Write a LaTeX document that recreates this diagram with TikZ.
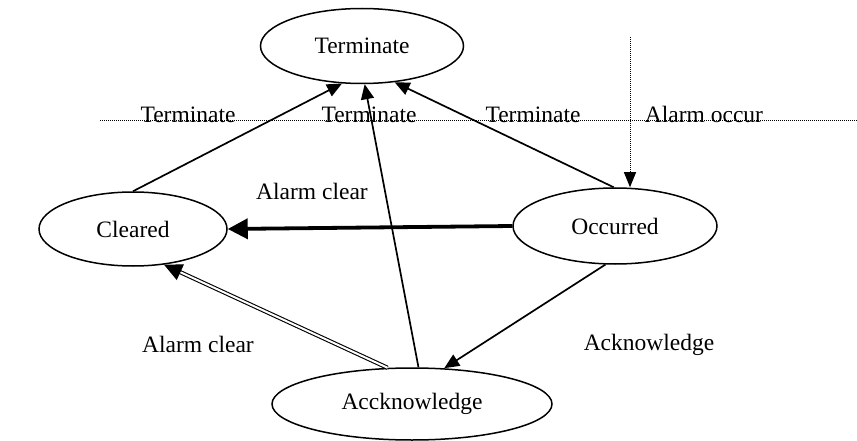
\documentclass[tikz,border=0pt]{standalone}
\usepackage{fontspec}
\setmainfont{Liberation Serif}
\usetikzlibrary{shapes.geometric,arrows.meta,calc}
\begin{document}
\begin{tikzpicture}[x=1pt,y=-1pt,
  state/.style={ellipse,draw,line width=1.5pt,fill=white,inner sep=0pt,font=\fontsize{23.5}{28}\selectfont},
  lbl/.style={font=\fontsize{23.5}{28}\selectfont,inner sep=0pt,anchor=base},
  conn/.style={line width=1.7pt,-{Triangle[length=15pt,width=13pt]}},
  thickconn/.style={line width=3.8pt,-{Triangle[length=20pt,width=20pt]}},
  dblline/.style={line width=1.1pt,double=white,double distance=2pt},
  tiponly/.style={line width=1pt,-{Triangle[length=18pt,width=17pt]}},
  dots/.style={line width=1pt,dash pattern=on 1pt off 1pt}]
\useasboundingbox (0,0) rectangle (857,441);
\node[state,minimum width=203pt,minimum height=75pt] (term) at (362,46) {Terminate};
\node[state,minimum width=188pt,minimum height=74pt] (clr) at (133,229) {Cleared};
\node[state,minimum width=204pt,minimum height=76pt] (occ) at (615,226) {Occurred};
\node[state,minimum width=280pt,minimum height=72pt] (ack) at (412,404) {Accknowledge};
% dotted lines
\coordinate (hl) at (100,121);
\coordinate (hr) at (857,121);
\draw[dots] (hl) -- (hr);
\coordinate (vt) at (630,37);
\draw[dots,-{Triangle[length=15pt,width=12pt]}] (vt) -- (vt |- occ.north);
% labels
\node[lbl] (t1) at (188,123) {Terminate};
\node[lbl] (t2) at (369,123) {Terminate};
\node[lbl] (t3) at (533,123) {Terminate};
\node[lbl] (ao) at (704,123) {Alarm occur};
\node[lbl] (ac1) at (312,200) {Alarm clear};
\node[lbl] (ac2) at (198,352) {Alarm clear};
\node[lbl] (ak) at (649,350) {Acknowledge};
% connectors
\draw[conn] (clr.90) -- (term.242);
\draw[conn] (ack.80) -- (term.274);
\draw[conn] (occ.92) -- (term.312);
\draw[thickconn] (occ.180) -- (clr.0);
\coordinate (dblend) at ($(clr.311)!16pt!(ack.124)$);
\draw[dblline] (ack.124) -- (dblend);
\draw[tiponly] (dblend) -- (clr.311);
\draw[conn] (occ.256) -- (ack.48);
\end{tikzpicture}
\end{document}
